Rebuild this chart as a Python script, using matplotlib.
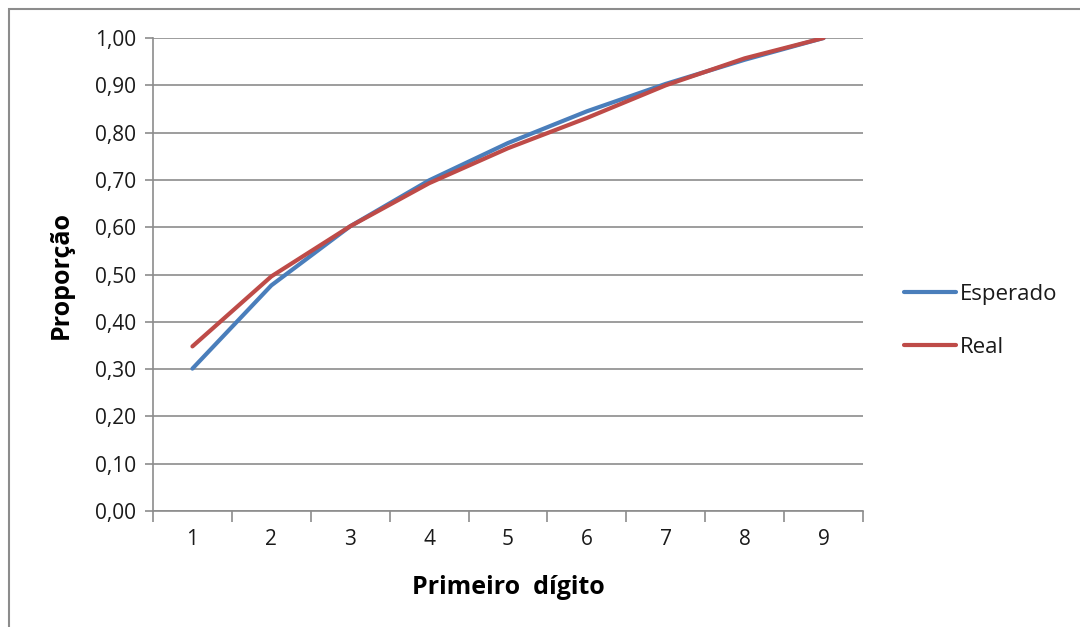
import matplotlib
matplotlib.use("Agg")
import matplotlib.pyplot as plt
from matplotlib.patches import Rectangle
from matplotlib.ticker import FixedLocator, FuncFormatter

# Cumulative proportion of first digits
digits = [1, 2, 3, 4, 5, 6, 7, 8, 9]
esperado = [0.301, 0.477, 0.602, 0.699, 0.778, 0.845, 0.903, 0.954, 1.000]
real = [0.348, 0.496, 0.602, 0.693, 0.767, 0.831, 0.900, 0.957, 1.000]
y_ticks = [0.0, 0.1, 0.2, 0.3, 0.4, 0.5, 0.6, 0.7, 0.8, 0.9, 1.0]

W, H = 1080, 627
fig = plt.figure(figsize=(W / 100, H / 100), dpi=100)
fig.patch.set_facecolor("white")

# outer chart frame
fig.add_artist(Rectangle((9 / W, -0.2), 1.2, 1.2 - 9 / H,
                         transform=fig.transFigure, fill=False,
                         edgecolor="#8c8c8c", linewidth=1.5))

ax = fig.add_axes([153 / W, (H - 511) / H, (863 - 153) / W, (511 - 38) / H])
grid_c = "#8c8c8c"
tick_font = "Open Sans"

ax.plot(digits, esperado, color="#4A7EBB", lw=3.0, solid_capstyle="round",
        label="Esperado", zorder=3)
ax.plot(digits, real, color="#BE4B48", lw=3.0, solid_capstyle="round",
        label="Real", zorder=4)

ax.set_xlim(0.5, 9.5)
ax.set_ylim(0, 1.0)
ax.yaxis.set_major_locator(FixedLocator(y_ticks))
ax.yaxis.set_major_formatter(FuncFormatter(lambda v, p: f"{v:.2f}".replace(".", ",")))
ax.set_xticks(digits)
ax.set_xticklabels([str(d) for d in digits])
ax.xaxis.set_minor_locator(FixedLocator([d + 0.5 for d in range(0, 10)]))

ax.grid(axis="y", color=grid_c, lw=1.2, zorder=0)
ax.set_axisbelow(True)
for s in ["top", "right"]:
    ax.spines[s].set_visible(False)
for s in ["left", "bottom"]:
    ax.spines[s].set_color(grid_c)
    ax.spines[s].set_linewidth(1.2)

ax.tick_params(axis="x", which="major", length=0, pad=13,
               labelsize=15, labelcolor="#1a1a1a")
ax.tick_params(axis="x", which="minor", length=8, width=1.2, color=grid_c,
               direction="out")
ax.tick_params(axis="y", which="major", length=6, width=1.2, color=grid_c,
               pad=6, labelsize=15, labelcolor="#1a1a1a")
for lab in ax.get_xticklabels() + ax.get_yticklabels():
    lab.set_family(tick_font)

fig.text(508 / W, 1 - 587 / H, "Primeiro  dígito", ha="center", va="center",
         fontsize=18, fontweight="bold", family="Open Sans")
fig.text(61 / W, 1 - 275 / H, "Proporção", ha="center", va="center",
         rotation=90, fontsize=18, fontweight="bold", family="Open Sans")

leg = fig.legend(loc="upper left", bbox_to_anchor=(904 / W, 1 - 284 / H),
                 frameon=False, prop={"family": tick_font, "size": 16},
                 handlelength=2.35, handletextpad=0.15, labelspacing=1.45,
                 borderaxespad=0, borderpad=0)
for t in leg.get_texts():
    t.set_color("#1a1a1a")

fig.savefig("out.png", dpi=100, facecolor="white")
